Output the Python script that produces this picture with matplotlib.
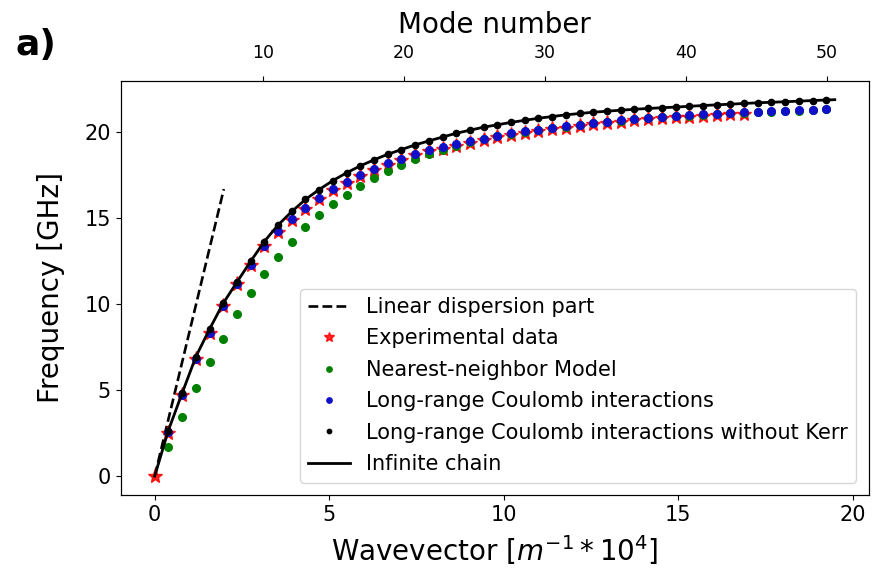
import matplotlib
matplotlib.use("Agg")
import matplotlib.pyplot as plt
import numpy as np

# ---- data ----
dk = 0.3926  # wavevector spacing between modes (m^-1 * 1e4)

exp_n = list(range(0, 44))
exp_f = [0, 2.52, 4.75, 6.8, 8.33, 9.88, 11.15, 12.28, 13.37, 14.2, 14.93, 15.57,
         16.15, 16.65, 17.08, 17.46, 17.8, 18.12, 18.4, 18.66, 18.9, 19.05, 19.22,
         19.4, 19.55, 19.72, 19.86, 19.97, 20.07, 20.17, 20.27, 20.37, 20.46, 20.55,
         20.62, 20.7, 20.76, 20.82, 20.87, 20.92, 20.96, 21.0, 21.04, 21.08]

model_n = list(range(1, 50))
nn_f = [1.69, 3.43, 5.1, 6.65, 8.0, 9.45, 10.68, 11.77, 12.73, 13.64, 14.5, 15.2,
        15.83, 16.34, 16.9, 17.34, 17.73, 18.12, 18.47, 18.74, 19.0, 19.22, 19.42,
        19.6, 19.77, 19.92, 20.03, 20.13, 20.23, 20.33, 20.43, 20.52, 20.61, 20.68,
        20.76, 20.82, 20.88, 20.93, 20.98, 21.02, 21.06, 21.1, 21.14, 21.18, 21.21,
        21.24, 21.26, 21.29, 21.33]
lr_f = [2.55, 4.75, 6.8, 8.35, 9.9, 11.15, 12.3, 13.4, 14.25, 14.95, 15.6, 16.2,
        16.7, 17.13, 17.52, 17.87, 18.2, 18.47, 18.74, 18.98, 19.12, 19.3, 19.48,
        19.63, 19.8, 19.94, 20.05, 20.15, 20.25, 20.35, 20.45, 20.54, 20.63, 20.7,
        20.78, 20.84, 20.9, 20.95, 21.0, 21.04, 21.08, 21.12, 21.16, 21.2, 21.23,
        21.26, 21.28, 21.31, 21.35]
lr_nokerr_f = [2.65, 4.85, 6.95, 8.55, 10.05, 11.3, 12.5, 13.65, 14.6, 15.4, 16.1,
               16.67, 17.19, 17.65, 18.05, 18.4, 18.72, 19.0, 19.27, 19.5, 19.74,
               19.95, 20.14, 20.3, 20.45, 20.58, 20.7, 20.82, 20.92, 21.02, 21.1,
               21.17, 21.23, 21.29, 21.34, 21.39, 21.43, 21.47, 21.51, 21.56, 21.6,
               21.64, 21.68, 21.72, 21.75, 21.78, 21.81, 21.85, 21.88]

inf_k = [0, 0.39, 0.79, 1.18, 1.57, 1.96, 2.36, 2.75, 3.14, 3.53, 3.93, 4.32, 4.71,
         5.1, 5.5, 5.89, 6.28, 6.67, 7.07, 7.46, 7.85, 8.64, 9.42, 10.21, 10.99,
         11.78, 12.56, 13.35, 14.13, 14.92, 15.7, 16.49, 17.27, 18.06, 18.84, 19.48]
inf_f = [0, 2.65, 4.85, 6.95, 8.55, 10.05, 11.3, 12.5, 13.65, 14.6, 15.4, 16.1,
         16.67, 17.19, 17.65, 18.05, 18.4, 18.72, 19.0, 19.27, 19.5, 19.95, 20.3,
         20.58, 20.82, 21.02, 21.17, 21.29, 21.39, 21.47, 21.56, 21.64, 21.72,
         21.78, 21.85, 21.9]

lin_k = [0.0, 1.98]
lin_f = [0.0, 16.7]

mode_ticks = [10, 20, 30, 40, 50]

exp_k = np.array(exp_n) * dk
model_k = np.array(model_n) * dk

fig = plt.figure(figsize=(8.79, 5.77), dpi=100)
ax = fig.add_axes([0.1373, 0.142, 0.8513, 0.718])

ax.plot(lin_k, lin_f, "k--", lw=1.9, label="Linear dispersion part")
ax.plot(exp_k, exp_f, "*", color="red", ms=11, alpha=0.85, mec="red",
        ls="none", label="Experimental data")
ax.plot(model_k, nn_f, "o", color="green", ms=5.5, ls="none",
        label="Nearest-neighbor Model")
ax.plot(model_k, lr_f, "o", color="#1010c8", ms=5.5, ls="none",
        label="Long-range Coulomb interactions")
ax.plot(model_k, lr_nokerr_f, "o", color="black", ms=4.5, ls="none",
        label="Long-range Coulomb interactions without Kerr")
ax.plot(inf_k, inf_f, "k-", lw=2.0, label="Infinite chain")

ax.set_xlim(-0.974, 20.46)
ax.set_ylim(-1.1, 23.0)
ax.set_xticks([0, 5, 10, 15, 20])
ax.set_yticks([0, 5, 10, 15, 20])
ax.tick_params(labelsize=15)
ax.set_xlabel(r"Wavevector [$m^{-1} * 10^4$]", fontsize=20, labelpad=6)
ax.set_ylabel("Frequency [GHz]", fontsize=20, labelpad=14)

leg = ax.legend(loc="lower right", fontsize=15, labelspacing=0.55,
                markerscale=0.7, borderaxespad=0.6, borderpad=0.4)

ax2 = ax.twiny()
ax2.set_xlim(-0.12, 53.0)
ax2.set_xticks(mode_ticks)
ax2.tick_params(labelsize=12.5, pad=10)
ax2.set_xlabel("Mode number", fontsize=20, labelpad=8)

fig.text(0.018, 0.922, "a)", fontsize=26, fontweight="bold", va="center")

fig.savefig("out.png", dpi=100)
